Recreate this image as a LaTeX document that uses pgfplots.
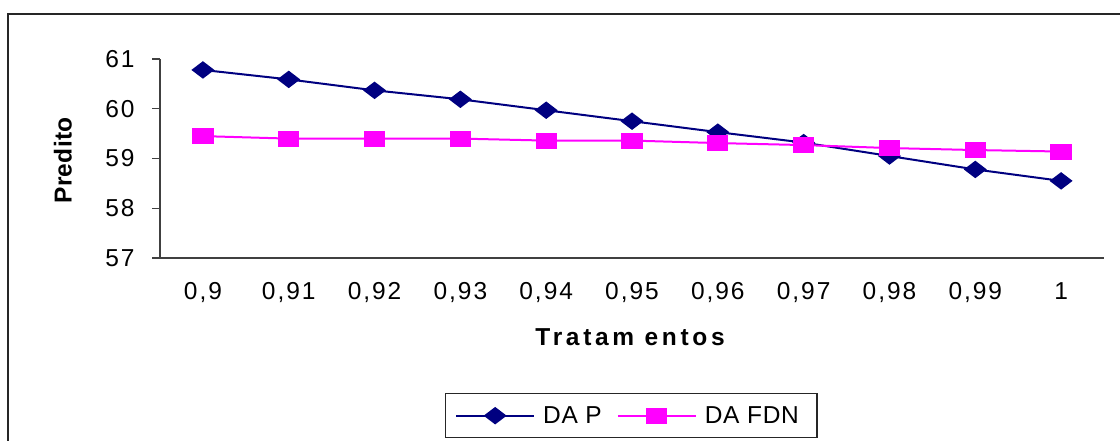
\documentclass[border=0pt]{standalone}
\usepackage{pgfplots}
\pgfplotsset{compat=1.18}
\usepackage{fontspec}
\setmainfont{Liberation Sans}
\newfontfamily\tickfont[LetterSpace=8]{Liberation Sans}
\newfontfamily\titlefont[LetterSpace=15]{Liberation Sans}
\newfontfamily\ytitlefont[LetterSpace=1]{Liberation Sans}
\newfontfamily\legendfont[LetterSpace=3]{Liberation Sans}
\newcommand\chartsize{\fontsize{24.5bp}{28bp}\selectfont}

\definecolor{dapblue}{RGB}{0,0,128}
\definecolor{fdnpink}{RGB}{255,0,255}
\definecolor{axisgrey}{RGB}{64,64,64}

\begin{document}
\begin{tikzpicture}
\useasboundingbox (0,0) rectangle (1120bp,441bp);
% outer chart frame (runs past the right and bottom edges)
\draw[line width=1.5bp, black!85] (8bp,-20bp) rectangle (1140bp,427bp);
\begin{axis}[
  at={(160bp,183bp)}, anchor=south west,
  scale only axis, width=944bp, height=199bp,
  xmin=-0.5, xmax=10.5, ymin=57, ymax=61,
  axis lines=left,
  axis line style={-, axisgrey, line width=1.2bp},
  tick align=outside,
  major tick length=8bp, minor tick length=7bp,
  every tick/.style={axisgrey, line width=1.2bp},
  xtick={0,...,10},
  xticklabels={{0,9},{0,91},{0,92},{0,93},{0,94},{0,95},{0,96},{0,97},{0,98},{0,99},{1}},
  x tick style={draw=none},
  minor xtick={-0.5,0.5,...,10.5},
  ytick={57,58,59,60,61},
  yticklabels={57,58,59,60,61},
  xticklabel style={font=\tickfont\chartsize, yshift=-13bp},
  yticklabel style={font=\tickfont\chartsize, xshift=-14bp},
  xlabel={Tratam entos},
  ylabel={Predito},
  xlabel style={font=\titlefont\bfseries\chartsize, at={(axis description cs:0.498,-0.40)}, anchor=center},
  ylabel style={font=\ytitlefont\bfseries\chartsize, at={(axis description cs:-0.1028,0.49)}, anchor=center, rotate=0},
  legend columns=2,
  legend style={at={(axis description cs:0.499,-0.678)}, anchor=north,
    draw=black!85, line width=1.2bp, inner xsep=10bp, inner ysep=13bp,
    font=\legendfont\chartsize,
    nodes={inner xsep=8bp, inner ysep=0bp},
    /tikz/every even column/.append style={column sep=7bp}},
  legend image code/.code={\draw[mark repeat=2,mark phase=2,#1] plot coordinates {(0bp,0bp) (39bp,0bp) (78bp,0bp)};},
]
\addplot[dapblue, line width=2bp, mark=diamond*, mark size=7.5bp,
  mark options={solid, fill=dapblue, xscale=1.75}]
  coordinates {
  (0,60.78) (1,60.59) (2,60.37) (3,60.19) (4,59.97) (5,59.75)
  (6,59.53) (7,59.32) (8,59.05) (9,58.78) (10,58.55)};
\addlegendentry{DA P}
\addplot[fdnpink, line width=2bp, mark=square*, mark size=7bp,
  mark options={solid, fill=fdnpink, xscale=1.38}]
  coordinates {
  (0,59.45) (1,59.40) (2,59.40) (3,59.40) (4,59.36) (5,59.36)
  (6,59.31) (7,59.27) (8,59.21) (9,59.17) (10,59.14)};
\addlegendentry{DA FDN\hspace{2bp}}
\end{axis}
\end{tikzpicture}
\end{document}
